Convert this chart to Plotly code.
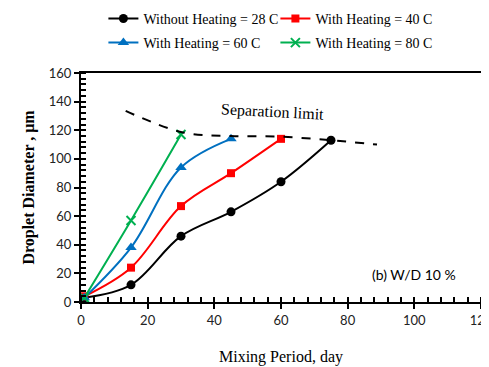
import plotly.graph_objects as go

x28 = [1, 15, 30, 45, 60, 75]
y28 = [3, 12, 46, 63, 84, 113]
x40 = [1, 15, 30, 45, 60]
y40 = [4, 24, 67, 90, 114]
x60 = [1, 15, 30, 45]
y60 = [3, 38, 94, 114]
x80 = [1, 15, 30]
y80 = [3, 57, 117]
sep_x = [13.4, 30.6, 45, 60, 75, 88.8]
sep_y = [133.5, 118.5, 116, 115.5, 113, 110]

serif = "Liberation Serif"
sans = "Lato"

fig = go.Figure()
fig.add_trace(go.Scatter(x=x28, y=y28, mode="lines+markers", name="Without Heating = 28 C",
                         legend="legend",
                         line=dict(color="black", width=2, shape="spline"),
                         marker=dict(symbol="circle", size=9, color="black")))
fig.add_trace(go.Scatter(x=x40, y=y40, mode="lines+markers", name="With Heating = 40 C",
                         legend="legend",
                         line=dict(color="#ff0000", width=2, shape="spline"),
                         marker=dict(symbol="square", size=8, color="#ff0000")))
fig.add_trace(go.Scatter(x=x60, y=y60, mode="lines+markers", name="With Heating = 60 C",
                         legend="legend2",
                         line=dict(color="#0070c0", width=2, shape="spline"),
                         marker=dict(symbol="triangle-up", size=10, color="#0070c0")))
fig.add_trace(go.Scatter(x=x80, y=y80, mode="lines+markers", name="With Heating = 80 C",
                         legend="legend2",
                         line=dict(color="#00b050", width=2, shape="spline"),
                         marker=dict(symbol="x-thin", size=9, color="#00b050",
                                     line=dict(color="#00b050", width=2))))
fig.add_trace(go.Scatter(x=sep_x, y=sep_y, mode="lines", showlegend=False,
                         line=dict(color="black", width=2, dash="dash", shape="spline")))

fig.add_annotation(x=57.5, y=133, text="Separation limit", showarrow=False, textangle=3,
                   font=dict(family=serif, size=16, color="black"))
fig.add_annotation(x=100, y=19.5, text="(b) W/D 10 %", showarrow=False,
                   font=dict(family=sans, size=14, color="black"))

axis_common = dict(showline=True, linecolor="black", linewidth=2, mirror=True,
                   showgrid=False, zeroline=False, automargin=False,
                   ticks="outside", ticklen=5, tickwidth=1.5, tickcolor="black",
                   tickfont=dict(family=sans, size=13, color="#222"))
fig.update_xaxes(range=[0, 120], dtick=20, tick0=0,
                 minor=dict(ticks="inside", dtick=4, ticklen=5, tickcolor="black", tickwidth=1.5),
                 title=dict(text="Mixing Period, day", font=dict(family=serif, size=16, color="black"),
                            standoff=24),
                 **axis_common)
fig.update_yaxes(range=[0, 160], dtick=20, tick0=0,
                 minor=dict(ticks="inside", dtick=4, ticklen=5, tickcolor="black", tickwidth=1.5),
                 title=dict(text="<b>Droplet Diameter , μm</b>", font=dict(family=serif, size=16, color="black"),
                            standoff=10),
                 **axis_common)

leg_common = dict(orientation="h", xanchor="left", yanchor="middle",
                  entrywidth=127, entrywidthmode="pixels",
                  font=dict(family=serif, size=14, color="black"),
                  bgcolor="rgba(0,0,0,0)", itemwidth=30)

fig.update_layout(
    width=489, height=367,
    margin=dict(l=73, r=16, t=65, b=73, autoexpand=False),
    plot_bgcolor="white", paper_bgcolor="white",
    legend=dict(x=0.056, y=1.236, **leg_common),
    legend2=dict(x=0.056, y=1.131, **leg_common),
)
fig.write_html("out.html")
